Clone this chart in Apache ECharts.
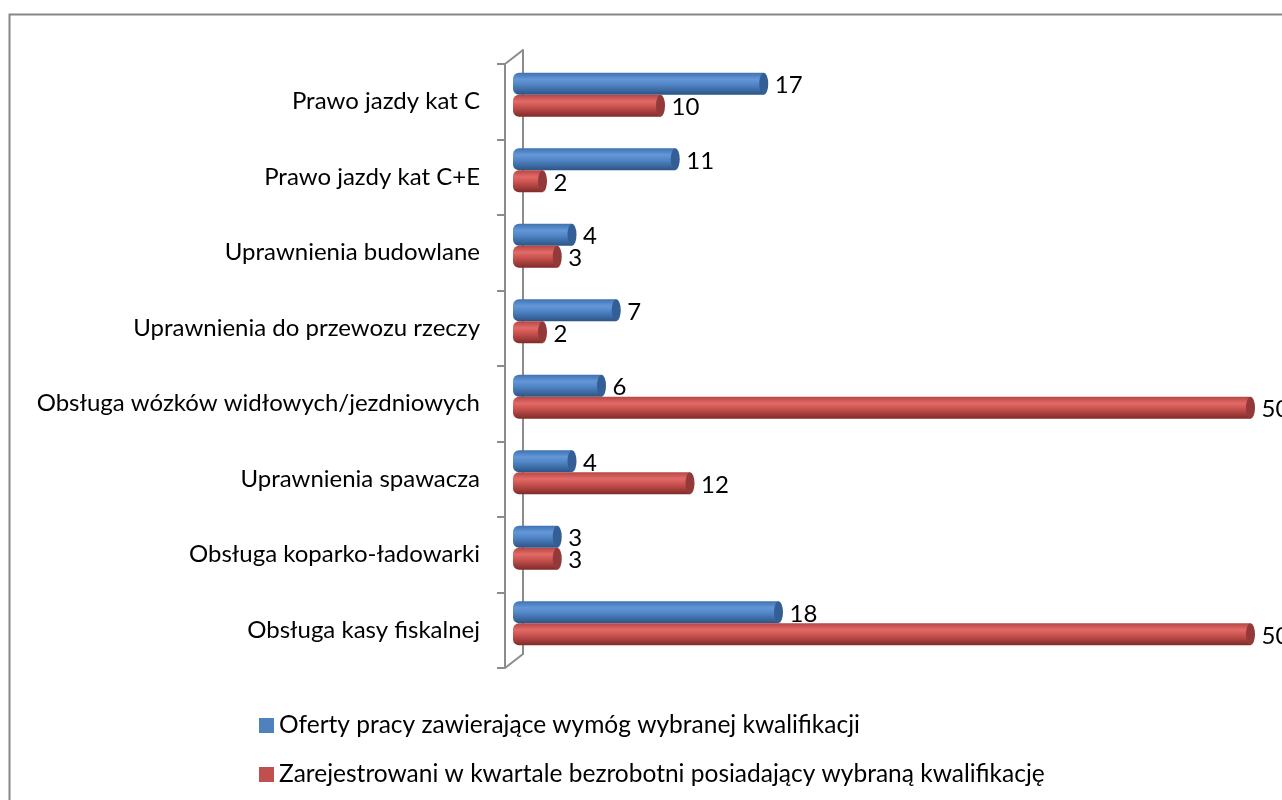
<!DOCTYPE html>
<html>
<head>
<meta charset="utf-8">
<script src="https://cdn.jsdelivr.net/npm/echarts@6/dist/echarts.min.js"></script>
<style>
html,body{margin:0;padding:0;background:#fff;}
#c{width:1282px;height:800px;}
</style>
</head>
<body>
<div id="c"></div>
<script>
const categories = [
  'Prawo jazdy kat C',
  'Prawo jazdy kat C+E',
  'Uprawnienia budowlane',
  'Uprawnienia do przewozu rzeczy',
  'Obsługa wózków widłowych/jezdniowych',
  'Uprawnienia spawacza',
  'Obsługa koparko-ładowarki',
  'Obsługa kasy fiskalnej'
];
const seriesNames = [
  'Oferty pracy zawierające wymóg wybranej kwalifikacji',
  'Zarejestrowani w kwartale bezrobotni posiadający wybraną kwalifikację'
];
const offers = [17, 11, 4, 7, 6, 4, 3, 18];
const unemployed = [10, 2, 3, 2, 50, 12, 3, 50];

const FONT = 'Lato';
const chart = echarts.init(document.getElementById('c'));

function grad(stops) {
  return new echarts.graphic.LinearGradient(0, 0, 0, 1, stops.map((c) => ({offset: c[0], color: c[1]})));
}
const blueGrad = grad([[0, '#3f72b0'], [0.3, '#6497d8'], [0.55, '#5084c4'], [1, '#2b5486']]);
const redGrad = grad([[0, '#b64744'], [0.3, '#e26a67'], [0.55, '#c9524f'], [1, '#7e2b29']]);

const labelStyle = {show: true, position: 'right', distance: 11, offset: [0, 2], color: '#000', fontFamily: FONT, fontSize: 24};

chart.setOption({
  animation: false,
  backgroundColor: '#fff',
  graphic: [
    {type: 'rect', left: 7, top: 12, shape: {width: 1400, height: 900}, style: {fill: 'none', stroke: '#868686', lineWidth: 2}, z: -10},
    {type: 'line', shape: {x1: 505, y1: 64, x2: 523, y2: 50}, style: {stroke: '#8c8c8c', lineWidth: 2}, z: -5},
    {type: 'line', shape: {x1: 505, y1: 668, x2: 523, y2: 654}, style: {stroke: '#8c8c8c', lineWidth: 2}, z: -5}
  ],
  legend: {
    orient: 'vertical',
    left: 254,
    top: 708,
    itemWidth: 15,
    itemHeight: 15,
    itemGap: 24,
    icon: 'rect',
    data: [
      {name: seriesNames[0], itemStyle: {color: '#4f81bd'}},
      {name: seriesNames[1], itemStyle: {color: '#c0504d'}}
    ],
    textStyle: {fontFamily: FONT, fontSize: 24.5, color: '#000'}
  },
  grid: [
    {left: 513, top: 57, height: 604, width: 737.5},
    {left: 523, top: 50, height: 604, width: 700},
    {left: 505, top: 64, height: 604, width: 700}
  ],
  xAxis: [
    {gridIndex: 0, type: 'value', min: 0, max: 50, show: false},
    {gridIndex: 1, type: 'value', min: 0, max: 50, show: false},
    {gridIndex: 2, type: 'value', min: 0, max: 50, show: false}
  ],
  yAxis: [
    {gridIndex: 0, type: 'category', data: categories, inverse: true, show: false},
    {gridIndex: 1, type: 'category', data: categories, inverse: true,
      axisLine: {show: true, lineStyle: {color: '#8c8c8c', width: 2}},
      axisTick: {show: false}, axisLabel: {show: false}, z: 0},
    {gridIndex: 2, type: 'category', data: categories, inverse: true,
      axisLine: {show: true, lineStyle: {color: '#8c8c8c', width: 2}},
      axisTick: {show: true, length: 8, lineStyle: {color: '#8c8c8c', width: 2}},
      axisLabel: {show: true, margin: 25, color: '#000', fontFamily: FONT, fontSize: 24}}
  ],
  series: [
    {name: seriesNames[0], type: 'bar', xAxisIndex: 0, yAxisIndex: 0, data: offers, barWidth: 22, barGap: '0%',
      itemStyle: {color: blueGrad, borderRadius: [6, 0, 0, 6]}, label: labelStyle, z: 3},
    {name: seriesNames[1], type: 'bar', xAxisIndex: 0, yAxisIndex: 0, data: unemployed, barWidth: 22, barGap: '0%',
      itemStyle: {color: redGrad, borderRadius: [6, 0, 0, 6]}, label: labelStyle, z: 3},
    {name: seriesNames[0] + ' cap', type: 'pictorialBar', xAxisIndex: 0, yAxisIndex: 0, data: offers, barWidth: 22, barGap: '0%',
      symbol: 'circle', symbolSize: [9, 22], symbolPosition: 'end', symbolOffset: ['50%', 0],
      itemStyle: {color: '#345f96'}, z: 4, legendHoverLink: false, silent: true},
    {name: seriesNames[1] + ' cap', type: 'pictorialBar', xAxisIndex: 0, yAxisIndex: 0, data: unemployed, barWidth: 22, barGap: '0%',
      symbol: 'circle', symbolSize: [9, 22], symbolPosition: 'end', symbolOffset: ['50%', 0],
      itemStyle: {color: '#93393a'}, z: 4, legendHoverLink: false, silent: true}
  ]
});
</script>
</body>
</html>
